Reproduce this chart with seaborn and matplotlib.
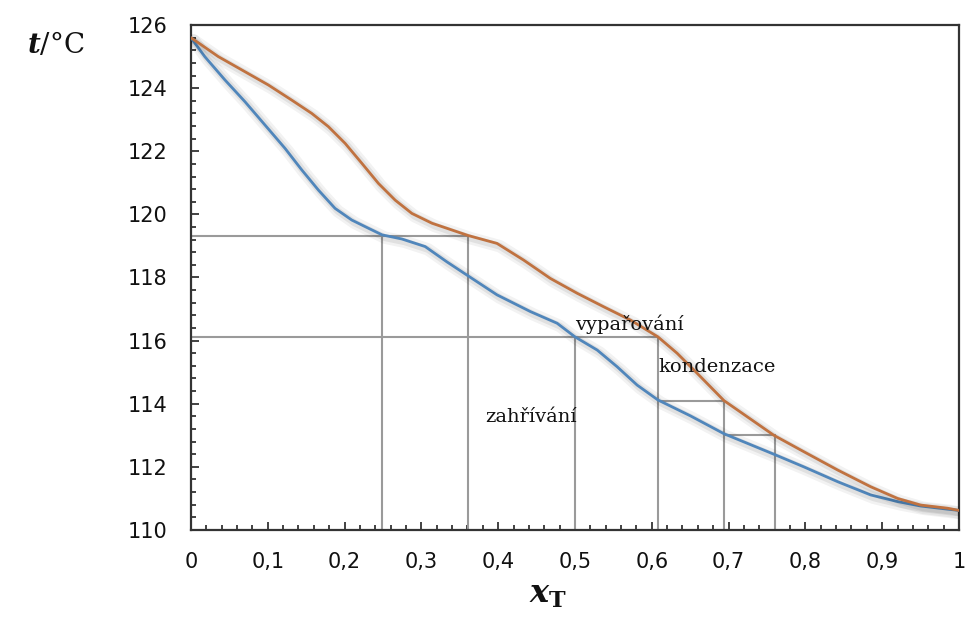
import matplotlib
matplotlib.use("Agg")
import matplotlib.pyplot as plt
import matplotlib.patheffects as pe
from matplotlib.ticker import MultipleLocator, FuncFormatter
import seaborn as sns
import pandas as pd

# liquid curve (blue)
x_liq = [0.0, 0.018, 0.0443, 0.0704, 0.0965, 0.1226, 0.1443, 0.166, 0.1877, 0.2095, 0.2312,
         0.249, 0.2747, 0.305, 0.333, 0.361, 0.3985, 0.442, 0.4768, 0.5, 0.529, 0.555, 0.581,
         0.608, 0.65, 0.694, 0.759, 0.798, 0.842, 0.885, 0.92, 0.95, 0.985, 1.0]
t_liq = [125.6, 125.0, 124.26, 123.57, 122.83, 122.09, 121.41, 120.77, 120.19, 119.82, 119.56,
         119.35, 119.22, 118.98, 118.5, 118.05, 117.45, 116.92, 116.55, 116.12, 115.7, 115.17, 114.59,
         114.12, 113.62, 113.05, 112.4, 112.0, 111.53, 111.11, 110.9, 110.76, 110.66, 110.62]

# vapour curve (orange)
x_vap = [0.0, 0.0356, 0.0704, 0.1008, 0.1313, 0.1573, 0.179, 0.2008, 0.2225, 0.2442, 0.266,
         0.2877, 0.3138, 0.361, 0.3985, 0.4333, 0.468, 0.5029, 0.5376, 0.5724, 0.608, 0.633,
         0.6593, 0.694, 0.759, 0.798, 0.842, 0.885, 0.92, 0.95, 0.985, 1.0]
t_vap = [125.6, 125.0, 124.52, 124.1, 123.62, 123.2, 122.78, 122.25, 121.62, 120.98, 120.45,
         120.03, 119.72, 119.33, 119.08, 118.55, 117.97, 117.5, 117.07, 116.65, 116.12, 115.6,
         114.96, 114.1, 113.0, 112.48, 111.9, 111.37, 111.0, 110.79, 110.69, 110.62]

# construction lines: horizontal (t, x_from, x_to), vertical (x, t_top)
h_t = [119.33, 116.12, 114.1, 113.0]
h_x0 = [0.0, 0.0, 0.608, 0.694]
h_x1 = [0.361, 0.608, 0.694, 0.761]
v_x = [0.249, 0.361, 0.5, 0.608, 0.694, 0.761]
v_t = [119.33, 119.33, 116.12, 116.12, 114.1, 113.0]

labels = ["vypařování", "kondenzace", "zahřívání"]
label_x = [0.5006, 0.609, 0.383]
label_t = [116.33, 115.0, 113.42]

sns.set_theme(style="white")
plt.rcParams["mathtext.fontset"] = "dejavuserif"

fig = plt.figure(figsize=(9.69, 6.19), dpi=100)
ax = fig.add_axes([0.197, 0.1438, 0.7927, 0.8158])

grey = "#9a9a9a"
for t, a, b in zip(h_t, h_x0, h_x1):
    ax.plot([a, b], [t, t], color=grey, lw=1.5, zorder=2)
for x, t in zip(v_x, v_t):
    ax.plot([x, x], [110, t], color=grey, lw=1.5, zorder=2)

shadow = [pe.SimpleLineShadow(offset=(2, -2), shadow_color="#000000", alpha=0.05, linewidth=9),
          pe.SimpleLineShadow(offset=(2, -2), shadow_color="#000000", alpha=0.07, linewidth=5),
          pe.Normal()]

df_liq = pd.DataFrame({"x": x_liq, "t": t_liq})
df_vap = pd.DataFrame({"x": x_vap, "t": t_vap})
sns.lineplot(data=df_liq, x="x", y="t", ax=ax, color="#5086bb", lw=2, zorder=3)
sns.lineplot(data=df_vap, x="x", y="t", ax=ax, color="#c07240", lw=2, zorder=3)
for line in ax.lines[-2:]:
    line.set_path_effects(shadow)
    line.set_solid_joinstyle("round")

for s, x, t in zip(labels, label_x, label_t):
    ax.text(x, t, s, fontsize=14, family="DejaVu Serif", color="#111111", zorder=4)

ax.set_xlim(0, 1)
ax.set_ylim(110, 126)
ax.xaxis.set_major_locator(MultipleLocator(0.1))
ax.xaxis.set_minor_locator(MultipleLocator(0.02))
ax.yaxis.set_major_locator(MultipleLocator(2))
ax.yaxis.set_minor_locator(MultipleLocator(0.4))
ax.xaxis.set_major_formatter(FuncFormatter(lambda v, p: ("%g" % round(v, 2)).replace(".", ",")))
ax.tick_params(which="both", direction="in", left=True, bottom=True, top=False, right=False,
               color="#222222", width=1.2)
ax.tick_params(which="major", length=6, labelsize=15, labelcolor="#111111")
ax.tick_params(which="minor", length=3.5)
ax.tick_params(axis="x", which="major", pad=16)
ax.tick_params(axis="y", which="major", pad=17)
for sp in ax.spines.values():
    sp.set_color("#333333")
    sp.set_linewidth(1.6)
ax.set_xlabel("")
ax.set_ylabel("")

fig.text(0.028, 0.927, r"$\mathbfit{t}$/°C", fontsize=20, family="DejaVu Serif",
         color="#111111", va="center", ha="left")
fig.text(0.566, 0.04, r"$\mathbfit{x}_\mathbf{T}$", fontsize=23, ha="center", va="center",
         color="#111111")

fig.savefig("out.png", dpi=100)
